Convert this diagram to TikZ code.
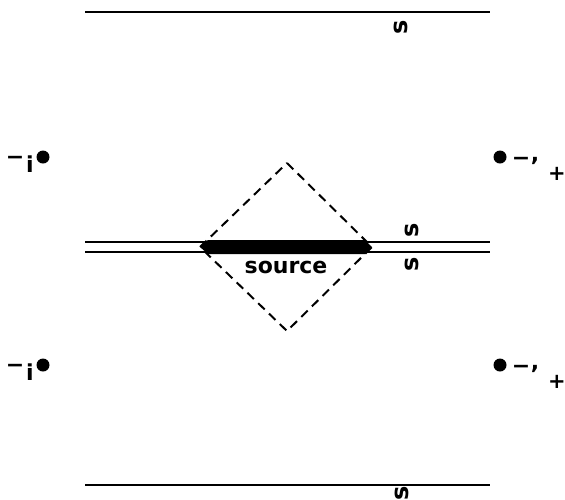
\documentclass[tikz,border=0pt]{standalone}
\usepackage{fontspec}
\setsansfont{DejaVu Sans}
\usepackage{tikz}
\usetikzlibrary{calc}
\tikzset{
  wall/.style={line width=2pt},
  diag/.style={dashed, dash pattern=on 9pt off 6pt, line width=2pt},
  slabel/.style={font=\sffamily\bfseries\fontsize{24}{24}\selectfont, rotate=90, inner sep=0pt},
  sign/.style={font=\sffamily\bfseries\fontsize{22}{22}\selectfont, inner sep=0pt}
}
\newcommand{\charge}[2]{
  \fill (#1, #2) circle (6.5);
}

\begin{document}
\begin{tikzpicture}[x=1pt, y=-1pt]

  \useasboundingbox (0, 0) rectangle (565, 499);

  % walls
  \draw[wall] (85, 12) -- (490, 12);
  \draw[wall] (85, 242) -- (490, 242);
  \draw[wall] (85, 252) -- (490, 252);
  \draw[wall] (85, 485) -- (490, 485);

  \node[slabel] (s1) at (401, 27) {s};
  \node[slabel] (s2) at (412, 230) {s};
  \node[slabel] (s3) at (412, 264) {s};
  \node[slabel] (s4) at (402, 493) {s};

  % source and its diamond
  \coordinate (top) at (287, 163);
  \coordinate (left) at (200, 247);
  \coordinate (right) at (372, 247);
  \coordinate (bottom) at (287, 331);
  \draw[diag] (top) -- (right) -- (bottom) -- (left) -- cycle;

  \fill (left) -- (208, 240) -- (365, 240) -- (right) -- (365, 254) -- (208, 254) -- cycle;
  \node[font=\sffamily\bfseries\fontsize{22}{22}\selectfont] (src) at (286, 267) {source};

  % image charges
  \charge{43}{157}
  \charge{43}{365}
  \charge{500}{157}
  \charge{500}{365}

  \node[sign] (lm1) at (15, 160) {−};
  \node[sign] (li1) at (30, 164) {i};
  \node[sign] (lm2) at (15, 368) {−};
  \node[sign] (li2) at (30, 372) {i};

  \node[sign] (rm1) at (521, 161) {−};
  \node[sign] (rd1) at (535, 161) {,};
  \node[sign, font=\sffamily\bfseries\fontsize{21}{21}\selectfont] (rp1) at (557, 174) {+};
  \node[sign] (rm2) at (521, 369) {−};
  \node[sign] (rd2) at (535, 369) {,};
  \node[sign, font=\sffamily\bfseries\fontsize{21}{21}\selectfont] (rp2) at (557, 382) {+};

\end{tikzpicture}
\end{document}
